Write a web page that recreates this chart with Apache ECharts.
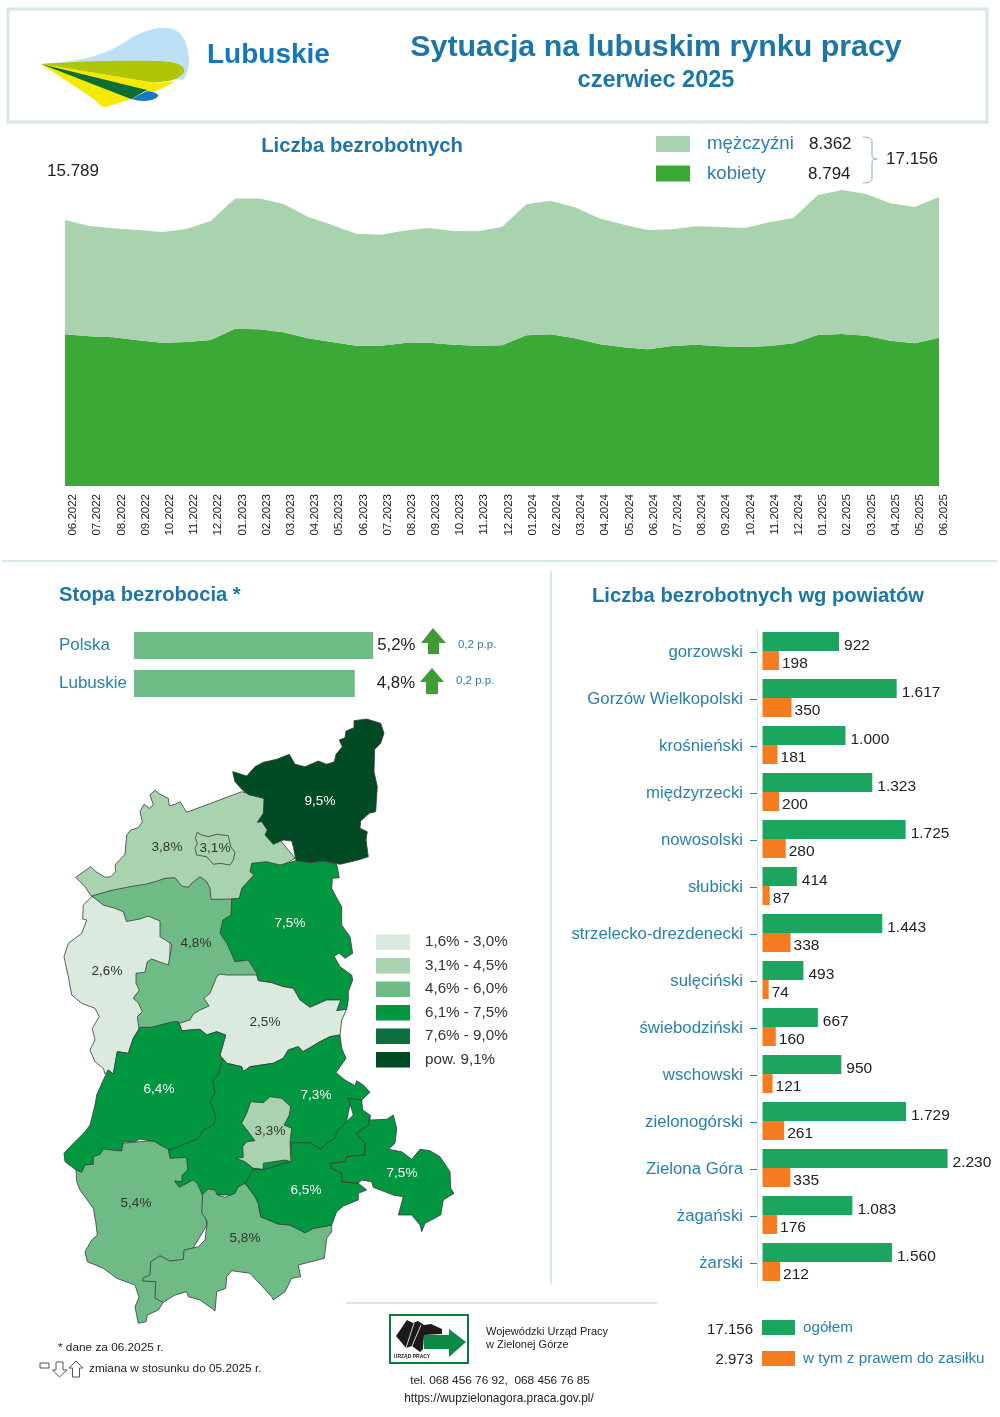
<!DOCTYPE html>
<html lang="pl">
<head>
  <meta charset="UTF-8">
  <title>Sytuacja na lubuskim rynku pracy</title>
  <script src="https://cdn.jsdelivr.net/npm/echarts@6/dist/echarts.min.js"></script>
  <style>
    html, body { margin: 0; padding: 0; background: #fff; }
  </style>
</head>
<body>
  <div id="main" style="width:1000px;height:1417px;"></div>

  <script type="text/javascript">
    // Liczba bezrobotnych, monthly
    const miesiace = [
      '06.2022', '07.2022', '08.2022', '09.2022', '10.2022', '11.2022', '12.2022',
      '01.2023', '02.2023', '03.2023', '04.2023', '05.2023', '06.2023', '07.2023',
      '08.2023', '09.2023', '10.2023', '11.2023', '12.2023', '01.2024', '02.2024',
      '03.2024', '04.2024', '05.2024', '06.2024', '07.2024', '08.2024', '09.2024',
      '10.2024', '11.2024', '12.2024', '01.2025', '02.2025', '03.2025', '04.2025',
      '05.2025', '06.2025'
    ];
    const kobiety = [
      9005, 8885, 8825, 8648, 8510, 8548, 8666, 9340, 9300, 9120, 8765, 8548, 8330,
      8330, 8490, 8510, 8390, 8330, 8350, 8945, 9005, 8765, 8430, 8235, 8115, 8310,
      8390, 8290, 8250, 8310, 8470, 8965, 9025, 8920, 8625, 8470, 8794
    ];
    const mezczyzni = [
      6784, 6549, 6471, 6548, 6568, 6708, 7064, 7720, 7760, 7620, 7225, 6942, 6650,
      6590, 6670, 6805, 6750, 6790, 7025, 7775, 7930, 7775, 7460, 7295, 7081, 6925,
      7025, 7085, 7065, 7340, 7440, 8290, 8545, 8415, 8155, 8090, 8362
    ];

    // Stopa bezrobocia
    const stopaNazwy = ['Polska', 'Lubuskie'];
    const stopaWartosci = [5.2, 4.8];

    // Liczba bezrobotnych wg powiatow
    const powiaty = [
      'gorzowski', 'Gorzów Wielkopolski', 'krośnieński', 'międzyrzecki', 'nowosolski',
      'słubicki', 'strzelecko-drezdenecki', 'sulęciński', 'świebodziński', 'wschowski',
      'zielonogórski', 'Zielona Góra', 'żagański', 'żarski'
    ];
    const ogolem = [922, 1617, 1000, 1323, 1725, 414, 1443, 493, 667, 950, 1729, 2230, 1083, 1560];
    const zasilek = [198, 350, 181, 200, 280, 87, 338, 74, 160, 121, 261, 335, 176, 212];

    // Map: unemployment rate per powiat, same order as powiaty
    const stopaPowiatow = [3.8, 3.1, 6.4, 7.5, 6.5, 2.6, 9.5, 4.8, 2.5, 7.5, 7.3, 3.3, 5.8, 5.4];
    const przedzialy = [
      { min: 1.6, max: 3.0, label: '1,6% - 3,0%', color: '#dbeadf' },
      { min: 3.1, max: 4.5, label: '3,1% - 4,5%', color: '#a8d3ae' },
      { min: 4.6, max: 6.0, label: '4,6% - 6,0%', color: '#6fbb86' },
      { min: 6.1, max: 7.5, label: '6,1% - 7,5%', color: '#019640' },
      { min: 7.6, max: 9.0, label: '7,6% - 9,0%', color: '#0c6f3e' },
      { min: 9.1, max: 100, label: 'pow. 9,1%', color: '#004b23' }
    ];

    const FONT = '"Liberation Sans", Arial, sans-serif';
    const TEAL = '#2a80ad';
    const TITLE = '#1c76a6';
    const DARK = '#222';
    const LINE = '#d6eadf';

    // Region outlines, in page pixels. Listed back to front:
    // neighbours overlap and the later shape gives the shared border.
    const obrysy = [
      ['gorzowski', [167, 847], [[75.7,877.3],[90.7,866.7],[96,871.7],[105,877.3],[110.7,876.7],[115.7,871.7],[115,865],[125,854.3],[126.7,835],[130.7,830],[138.3,827.7],[142.3,821.7],[140,811.7],[144,804.3],[149.3,808.3],[153.3,805],[150,795],[155,790.3],[160,794.3],[168.3,798.3],[169.3,805.7],[175,804.3],[180,801.7],[186.7,812.3],[241.7,791.7],[270,800],[280,840],[295,858],[260,880],[240,905],[200,900],[110,900],[91.7,896.7],[85,886.7]]],
      ['słubicki', [107, 971], [[91.7,896.7],[83.3,905],[82.7,919],[86.7,920],[81.7,933.3],[68.3,943.3],[64,956.7],[68.3,976.7],[71.7,995],[81.7,1003.3],[95,1008.3],[99.3,1016.7],[92.3,1028.3],[95,1040],[90,1050],[95,1061.7],[103.3,1068.3],[105,1074],[108.3,1070],[113.3,1074],[117.3,1051.7],[128.3,1053.3],[133.3,1038.3],[140,1027.3],[170,1000],[170,925],[130,900]]],
      ['sulęciński', [196, 943], [[91.7,896],[110,890.7],[130,886.7],[146.7,884],[158.3,880.7],[165,878.3],[175,877.7],[181.7,886],[188.3,887.3],[191.7,883.3],[200,876.7],[206.7,881.7],[210,888.3],[211,899.3],[235,899],[245,930],[262,976],[230,985],[200,1025],[178,1024],[160,1028],[139.3,1030],[137.3,1016.7],[142.3,1011.7],[138.3,1002.7],[133.3,998.3],[139.3,990],[136,983.3],[136,973.3],[145,972.3],[147.3,961.7],[151.7,959],[159,961.7],[168.3,965],[170.7,951.7],[171.7,944],[160,936.7],[160,921],[148,916],[140,919],[126.5,921.5],[123.3,911.7],[115,908.3],[103.3,905]]],
      ['strzelecko-drezdenecki', [320, 801], [[232.7,771.7],[235,772.3],[246.7,776],[255,766.7],[263.3,762.3],[276.7,759.3],[289.3,754.3],[295,764.3],[305,766.7],[318.3,761],[326.7,764.3],[334.3,761.7],[336,754.3],[342.3,746.7],[339.3,740],[345,737.7],[346,731],[354,727.7],[354,720.7],[366.7,719],[380.7,723.3],[384,733.3],[380.7,743.3],[374.7,749.3],[374,771.7],[377.3,786.7],[375.7,811.7],[369.3,813.3],[360.7,821],[360,828.3],[367.3,831.7],[366,840],[368.3,856.7],[358.3,860],[340,864.3],[323.3,861],[310,862.7],[296,860.7],[293.3,846.7],[291.7,841],[283.3,840],[273.3,844.3],[265,835],[267.3,830],[261.7,821.7],[257.3,822.3],[263.3,813.3],[264,798.3],[249.3,795],[242.7,790.3],[235,781.7]]],
      ['międzyrzecki', [290, 923], [[251.7,863.3],[266.7,861.7],[280,865],[295.7,860.7],[310,862.7],[323.3,861],[336.7,864.3],[339.3,877.7],[332.3,878.3],[331.7,888.3],[336,896.7],[341.7,906.7],[341.7,925],[350,936.7],[352.7,953.3],[345,958.3],[339.3,953.3],[334,956],[340,966.7],[351.7,975],[352.7,980],[348.3,991.7],[348.3,1000],[346.7,1009.3],[336.7,1010.7],[340.7,1000],[326.7,1000],[310,1007.3],[300,1000],[293.3,988.3],[283.3,986.7],[271.7,982.7],[258.3,980.7],[256.7,973.3],[248.3,960],[235,961.7],[230,950],[226.7,943],[220,933],[223,920],[231,915],[231.7,899],[239.3,898.3],[241.7,888.3],[254,875],[250,871.7]]],
      ['świebodziński', [265, 1022], [[179.3,1023.3],[190,1020],[193.3,1014],[200,1010],[209,1006],[204,998.3],[210,993.3],[213.3,985],[216.7,976.7],[220,974],[226.7,975],[236.7,975],[256.7,975],[258.3,980.7],[271.7,982.7],[283.3,986.7],[293.3,988.3],[300,1000],[310,1007.3],[326.7,1000],[340.7,1000],[336.7,1010.7],[346.7,1009.3],[341.7,1020],[340,1035],[330,1036.7],[320,1041.7],[311.7,1046.7],[303,1051.7],[298.3,1046.7],[288.3,1050],[283.3,1058.3],[273.3,1063.3],[261.7,1065],[250,1066.7],[243.3,1071.7],[241.7,1066.7],[226.7,1063.3],[220,1055],[225.7,1035],[216.7,1031.7],[206.7,1035],[200,1029.3],[181.7,1030.7]]],
      ['zielonogórski', [316, 1095], [[222,1058],[226.7,1063.3],[241.7,1066.7],[243.3,1071.7],[250,1066.7],[261.7,1065],[273.3,1063.3],[283.3,1058.3],[288.3,1050],[298.3,1046.7],[303,1051.7],[311.7,1046.7],[320,1041.7],[330,1036.7],[340,1035],[341.7,1048.3],[346,1058.3],[336,1072.7],[345,1080],[355,1085.7],[356.7,1080.7],[363.3,1085],[370,1092.3],[361.7,1100],[350,1104],[345,1130],[300,1165],[250,1195],[205,1195],[190,1190],[177,1190],[172,1178],[178,1165],[168,1162],[160,1135],[205,1110],[215,1070]]],
      ['żarski', [136, 1203], [[76,1170],[76.7,1181.7],[80,1190],[93.3,1208.3],[95.7,1221.7],[97.3,1235],[91.7,1240],[85,1251.7],[87.3,1261.7],[103.3,1268.3],[116.7,1278.3],[135,1285],[139,1297.3],[135,1306.7],[138.3,1323.3],[146,1321.7],[147.3,1315],[158.3,1310],[163.3,1302.3],[180,1270],[207,1225],[202,1194],[197.3,1183.3],[193.3,1180],[179.3,1187.3],[174.3,1181],[181.7,1181.7],[182.3,1175],[187.7,1170],[186.7,1157.3],[170,1158.3],[168,1148],[160,1140],[100,1145]]],
      ['krośnieński', [159, 1089], [[140,1027.3],[151.7,1027.3],[160,1025],[173.3,1021.7],[178.3,1021.7],[181.7,1030.7],[200,1029.3],[206.7,1035],[216.7,1031.7],[225.7,1035],[220,1055],[222.3,1060],[218.3,1075],[212.7,1080],[215,1093.3],[210,1101.7],[216,1116.7],[213.3,1125],[203.3,1130],[198.3,1138.3],[170,1150],[160,1145],[155,1141.7],[140,1139],[135,1141.7],[123.3,1141.7],[121.7,1151],[103.3,1149],[100,1154.3],[93.3,1156.7],[93.3,1164.3],[85,1165],[81.7,1172.3],[76,1170],[65,1161.7],[64,1153.3],[70,1146.7],[80,1136.7],[85,1131.7],[90,1125],[95,1105],[96.7,1095],[103.3,1080],[108.3,1070],[113.3,1074],[117.3,1051.7],[128.3,1053.3],[133.3,1038.3]]],
      ['żagański', [245, 1238], [[202.7,1194.3],[208.3,1189],[215,1190],[217.3,1195],[225,1197.3],[235,1193.3],[238.3,1186.7],[245.3,1183.3],[255,1196.7],[258.3,1203.3],[260.7,1216.7],[278.3,1224],[290,1225],[305,1232.7],[313.3,1228.3],[331.7,1225],[331.7,1231.7],[326.7,1238.3],[324.3,1258.3],[298.3,1265],[300.7,1276.7],[291.7,1278.3],[285,1291.7],[273.3,1300],[271.7,1296.7],[250,1273.3],[231.7,1270.7],[226.7,1276.7],[225.7,1288.3],[216.7,1291.7],[215,1311],[211.7,1308.3],[200,1300],[188.3,1296.7],[186.7,1291.7],[175,1295],[163.3,1302.3],[155,1298.3],[155.7,1281.7],[142.7,1281],[143.3,1277.7],[150,1275],[150.7,1261.7],[160,1255.7],[170,1261],[183.3,1259.3],[184,1250],[198.3,1246.7],[205,1240],[207.3,1221.7],[201.7,1212.3]]],
      ['nowosolski', [306, 1190], [[245.3,1183.3],[248.3,1178.3],[252.7,1169.3],[265,1169.3],[290,1161.7],[291.7,1142.7],[310,1142.7],[320.7,1149.3],[326.7,1143.3],[335,1138.3],[336.7,1131.7],[348.3,1120],[353.3,1115],[348.3,1098.3],[361.7,1100],[362.7,1110],[370,1115],[368.3,1125],[356.7,1133.3],[365,1143.3],[365,1155],[346.7,1156.7],[345,1161.7],[330,1163.3],[331.7,1168.3],[341.7,1173.3],[341.7,1181.7],[358.3,1183.3],[366.7,1190],[358.3,1193.3],[358.3,1200],[343.3,1206],[336.7,1211.7],[331.7,1225],[313.3,1228.3],[305,1232.7],[290,1225],[278.3,1224],[260.7,1216.7],[258.3,1203.3],[255,1196.7]]],
      ['wschowski', [402, 1173], [[370,1115],[370,1120],[386.7,1119.3],[393.3,1115],[396.7,1128.3],[395,1143.3],[388.3,1149.3],[401.7,1151.7],[411.7,1159.3],[420,1149.3],[430,1150.7],[440,1156.7],[450,1171.7],[450.7,1188.3],[454,1193.3],[443.3,1200],[440.7,1215],[425,1223.3],[421.7,1231.7],[420,1225],[411.7,1215],[398.3,1215],[403.3,1196.7],[393.3,1195],[373.3,1187.3],[371.7,1181.7],[361.7,1180],[358.3,1183.3],[341.7,1181.7],[341.7,1173.3],[331.7,1168.3],[330,1163.3],[345,1161.7],[346.7,1156.7],[365,1155],[365,1143.3],[356.7,1133.3],[368.3,1125]]],
      ['Zielona Góra', [270, 1131], [[250.7,1101.7],[263.3,1102.7],[270,1096.7],[281.7,1098.3],[290.7,1106.7],[289.3,1115],[284,1125],[291.7,1128.3],[290,1141.7],[291,1161.7],[285,1160],[263.3,1163.3],[263.3,1169.3],[253.3,1168.3],[245,1161.7],[236,1158.3],[243.3,1157.3],[242.7,1146.7],[246.7,1141.7],[255,1140.7],[248.3,1131.7],[241.7,1123.3],[246.7,1113.3]]],
      ['Gorzów Wielkopolski', [215, 848], [[197.3,832.3],[201.7,835],[208.3,836.7],[216.7,834.3],[228.3,835.7],[230.7,846.7],[235,852.3],[233.3,860],[230,865],[220,863.3],[213.3,864.3],[206.7,856.7],[196.7,855],[195,848.3],[197.3,843.3],[195.3,838.3]]]
    ];

    echarts.registerMap('lubuskie', {
      type: 'FeatureCollection',
      features: obrysy.map(([name, cp, ring]) => ({
        type: 'Feature',
        properties: { name, cp },
        geometry: { type: 'Polygon', coordinates: [ring.concat([ring[0]])] }
      }))
    });

    const liczba = (v) => String(v).replace(/\B(?=(\d{3})+$)/g, '.');
    const procent = (v) => v.toFixed(1).replace('.', ',') + '%';

    function napis(x, y, text, size, fill, extra) {
      return {
        type: 'text', x, y, silent: true,
        style: Object.assign({
          text, fill, fontSize: size, fontFamily: FONT, align: 'left', verticalAlign: 'middle'
        }, extra || {})
      };
    }
    function kreska(x1, y1, x2, y2, stroke, width) {
      return { type: 'line', silent: true, shape: { x1, y1, x2, y2 }, style: { stroke, lineWidth: width } };
    }
    // the graphic component has no plain 'path' type, so each svg path gets its own shape class
    let sciezkaNr = 0;
    function sciezka(pathData, fill, stroke) {
      const nazwa = 'sciezka' + (sciezkaNr++);
      echarts.graphic.registerShape(nazwa, echarts.graphic.extendPath(pathData, {}));
      return {
        type: nazwa, silent: true, shape: {},
        style: { fill: fill || 'none', stroke: stroke || 'none', lineWidth: 1 }
      };
    }
    function wielokat(points, fill, stroke) {
      return {
        type: 'polygon', silent: true, shape: { points },
        style: { fill: fill || 'none', stroke: stroke || 'none', lineWidth: 1 }
      };
    }

    const graphicItems = [
      // header frame and logo
      { type: 'rect', silent: true, shape: { x: 8, y: 9, width: 979, height: 113 }, style: { fill: 'none', stroke: LINE, lineWidth: 3 } },
      sciezka('M41,64 C80,62 105,55 125,42 C140,32 155,27 167,28 C182,29 188,42 189,60 C189,70 186,76 183,80 Z', '#bde0f7'),
      sciezka('M41,64 L147,90 L131,99 L106,107 C100,107 97,102 94,99 Z', '#f6e900'),
      sciezka('M41,64 L150,82 C160,83 172,82 176,80 C168,86 160,90 152,92 L147,91 Z', '#f6e900'),
      sciezka('M41,64 C80,61 130,60 160,61 C178,62 186,66 184,72 C180,80 165,83 150,82 Z', '#afc607'),
      sciezka('M147,91 C155,92 159,94 158,96 C156,100 145,103 131,99 Z', '#1878c0'),
      wielokat([[41, 64], [147, 90], [131, 99]], '#0a6f35'),
      napis(207, 55, 'Lubuskie', 28, '#1577bf', { fontWeight: 'bold' }),
      napis(656, 47.5, 'Sytuacja na lubuskim rynku pracy', 30.4, TITLE, { fontWeight: 'bold', align: 'center' }),
      napis(656, 81, 'czerwiec 2025', 23.5, TITLE, { fontWeight: 'bold', align: 'center' }),

      // area chart texts
      napis(362, 146, 'Liczba bezrobotnych', 20.3, TITLE, { fontWeight: 'bold', align: 'center' }),
      napis(47, 171, liczba(15789), 17, DARK),
      napis(809, 144, liczba(8362), 17, DARK),
      napis(808, 174, liczba(8794), 17, DARK),
      napis(886, 159, liczba(17156), 17, DARK),
      sciezka('M863,137 C869,137 872,138 872,142 L872,155 C872,158 873,159 877,159 C873,159 872,160 872,163 L872,178 C872,182 869,183 863,183', 'none', '#8aa7d8'),

      // section rules
      kreska(2, 561, 997, 561, LINE, 2),
      kreska(551, 571, 551, 1284, LINE, 2),
      kreska(346, 1303, 657, 1303, LINE, 2),

      // left and right section titles
      napis(59, 595, 'Stopa bezrobocia *', 20.2, TITLE, { fontWeight: 'bold' }),
      napis(758, 596, 'Liczba bezrobotnych wg powiatów', 20.2, TITLE, { fontWeight: 'bold', align: 'center' }),

      // change arrows next to the rate bars
      wielokat([[433, 628], [446, 643], [439, 643], [439, 654], [428, 654], [428, 643], [421, 643]], '#3f9b36'),
      wielokat([[432, 668], [444, 682], [438, 682], [438, 694], [426, 694], [426, 682], [420, 682]], '#3f9b36'),
      napis(458, 645, '0,2 p.p.', 11.5, TEAL),
      napis(456, 681, '0,2 p.p.', 11.5, TEAL),

      // notes
      napis(58, 1348, '* dane za 06.2025 r.', 11.8, DARK),
      napis(89, 1369, 'zmiana w stosunku do 05.2025 r.', 11.8, DARK),
      { type: 'rect', silent: true, shape: { x: 40, y: 1363, width: 9, height: 5 }, style: { fill: '#fff', stroke: '#555', lineWidth: 1 } },
      wielokat([[56, 1362], [63, 1362], [63, 1370], [67, 1370], [59.5, 1377], [52.5, 1370], [56, 1370]], '#fff', '#555'),
      wielokat([[76, 1361], [83, 1368], [79.5, 1368], [79.5, 1377], [72.5, 1377], [72.5, 1368], [69, 1368]], '#fff', '#555'),

      // office logo
      { type: 'rect', silent: true, shape: { x: 390, y: 1315, width: 78, height: 48 }, style: { fill: '#fff', stroke: '#0a7d3e', lineWidth: 2 } },
      wielokat([[396, 1336], [407, 1320], [413, 1323], [418, 1321], [424, 1325], [431, 1324], [442, 1329], [442, 1334], [424, 1335], [423, 1349], [420, 1352], [412, 1346], [406, 1348]], '#1a1a1a'),
      kreska(406, 1348, 414, 1323, '#fff', 0.8),
      kreska(412, 1346, 421, 1325, '#fff', 0.8),
      wielokat([[424, 1335], [449, 1335], [449, 1329], [466, 1342], [449, 1357], [449, 1349], [424, 1349]], '#0a8a46'),
      napis(412, 1357, 'URZĄD PRACY', 5, DARK, { fontWeight: 'bold', align: 'center' }),
      napis(486, 1332, 'Wojewódzki Urząd Pracy', 11, DARK),
      napis(486, 1345, 'w Zielonej Górze', 11, DARK),
      napis(500, 1381, 'tel. 068 456 76 92,  068 456 76 85', 11.8, DARK, { align: 'center' }),
      napis(499, 1399, 'https://wupzielonagora.praca.gov.pl/', 11.9, DARK, { align: 'center' }),

      // totals beside the bar legend
      napis(753, 1330, liczba(17156), 15, DARK, { align: 'right' }),
      napis(753, 1360, liczba(2973), 15, DARK, { align: 'right' })
    ];

    const myChart = echarts.init(document.getElementById('main'));

    myChart.setOption({
      animation: false,
      textStyle: { fontFamily: FONT },
      graphic: { elements: graphicItems },
      legend: [
        {
          data: ['mężczyźni', 'kobiety'], orient: 'vertical', left: 656, top: 134.5,
          itemWidth: 34, itemHeight: 16, itemGap: 10.5, icon: 'rect', selectedMode: false,
          padding: 0, textStyle: { color: TEAL, fontSize: 18.6, fontFamily: FONT, padding: [0, 0, 0, 12] }
        },
        {
          data: ['ogółem', 'w tym z prawem do zasiłku'], orient: 'vertical', left: 762, top: 1320,
          itemWidth: 33, itemHeight: 15, itemGap: 16, icon: 'rect', selectedMode: false,
          padding: 0, textStyle: { color: TEAL, fontSize: 15.2, fontFamily: FONT, padding: [0, 0, 0, 3] }
        }
      ],
      grid: [
        { left: 65, width: 874, top: 186, height: 300 },
        { left: 73, width: 871, top: 486, height: 1 },
        { left: 134, width: 276, top: 626.5, height: 76 },
        { left: 762.5, width: 200, top: 627.5, height: 658 },
        // powiat names and ticks sit a little below the bar pairs
        { left: 757, width: 200, top: 629, height: 658 }
      ],
      xAxis: [
        { gridIndex: 0, type: 'category', data: miesiace, boundaryGap: false, show: false },
        {
          gridIndex: 1, type: 'category', data: miesiace, boundaryGap: false,
          axisLine: { show: false }, axisTick: { show: false },
          axisLabel: { interval: 0, rotate: 90, fontSize: 11.5, color: DARK, margin: 7, fontFamily: FONT }
        },
        { gridIndex: 2, type: 'value', min: 0, max: 6, show: false },
        { gridIndex: 3, type: 'value', min: 0, max: 2410, show: false },
        { gridIndex: 4, type: 'value', show: false }
      ],
      yAxis: [
        { gridIndex: 0, type: 'value', min: 0, max: 17808, show: false },
        { gridIndex: 1, type: 'value', show: false },
        {
          gridIndex: 2, type: 'category', data: stopaNazwy, inverse: true,
          axisLine: { show: false }, axisTick: { show: false },
          axisLabel: { fontSize: 17, color: TEAL, align: 'left', margin: 75, fontFamily: FONT }
        },
        { gridIndex: 3, type: 'category', data: powiaty, inverse: true, show: false },
        {
          gridIndex: 4, type: 'category', data: powiaty, inverse: true,
          axisLine: { show: true, onZero: false, lineStyle: { color: '#e2e2e2', width: 1 } },
          axisTick: { show: true, alignWithLabel: true, length: 7, lineStyle: { color: TEAL } },
          axisLabel: { fontSize: 16.8, color: TEAL, margin: 14, interval: 0, fontFamily: FONT }
        }
      ],
      visualMap: {
        type: 'piecewise', seriesIndex: 5, orient: 'vertical', left: 376, top: 934.5,
        itemWidth: 34, itemHeight: 15.5, itemGap: 8, textGap: 15, padding: 0, inverse: true,
        itemSymbol: 'rect', selectedMode: false, hoverLink: false, pieces: przedzialy, align: 'left',
        textStyle: { color: '#333', fontSize: 15.2, fontFamily: FONT }
      },
      series: [
        {
          name: 'kobiety', type: 'line', stack: 'razem', xAxisIndex: 0, yAxisIndex: 0,
          data: kobiety, symbol: 'none', silent: true, color: '#3aa935',
          lineStyle: { width: 0 }, areaStyle: { color: '#3aa935', opacity: 1 }
        },
        {
          name: 'mężczyźni', type: 'line', stack: 'razem', xAxisIndex: 0, yAxisIndex: 0,
          data: mezczyzni, symbol: 'none', silent: true, color: '#a9d3ae',
          lineStyle: { width: 0 }, areaStyle: { color: '#a9d3ae', opacity: 1 }
        },
        {
          name: 'stopa', type: 'bar', xAxisIndex: 2, yAxisIndex: 2, barWidth: 27, silent: true,
          itemStyle: { color: '#6fbb86' },
          data: stopaWartosci.map((v, i) => ({ value: v, label: { distance: i === 0 ? 4 : 22 } })),
          label: {
            show: true, position: 'right', fontSize: 16.8, color: DARK, fontFamily: FONT,
            formatter: (p) => procent(p.value)
          }
        },
        {
          name: 'ogółem', type: 'bar', xAxisIndex: 3, yAxisIndex: 3, barWidth: 19, barGap: 0, silent: true,
          data: ogolem, color: '#1ca55f',
          label: {
            show: true, position: 'right', distance: 5, offset: [0, 4], fontSize: 15.5, color: DARK,
            fontFamily: FONT, formatter: (p) => liczba(p.value)
          }
        },
        {
          name: 'w tym z prawem do zasiłku', type: 'bar', xAxisIndex: 3, yAxisIndex: 3, barWidth: 19, silent: true,
          data: zasilek, color: '#f47b20',
          label: {
            show: true, position: 'right', distance: 3, offset: [0, 3], fontSize: 15.5, color: DARK,
            fontFamily: FONT, formatter: (p) => liczba(p.value)
          }
        },
        {
          name: 'mapa', type: 'map', map: 'lubuskie', silent: true, showLegendSymbol: false,
          projection: { project: (p) => p, unproject: (p) => p },
          boundingCoords: [[0, 0], [1000, 1417]],
          left: 0, top: 0, width: 1000, height: 1417,
          itemStyle: { borderColor: '#3a3a3a', borderWidth: 0.8 },
          emphasis: { disabled: true }, select: { disabled: true },
          label: {
            show: true, fontSize: 13.5, fontFamily: FONT,
            formatter: (p) => procent(p.value)
          },
          data: powiaty.map((name, i) => ({
            name, value: stopaPowiatow[i],
            label: { color: stopaPowiatow[i] >= 6.1 ? '#fff' : '#333' }
          }))
        }
      ]
    });
  </script>
</body>
</html>
